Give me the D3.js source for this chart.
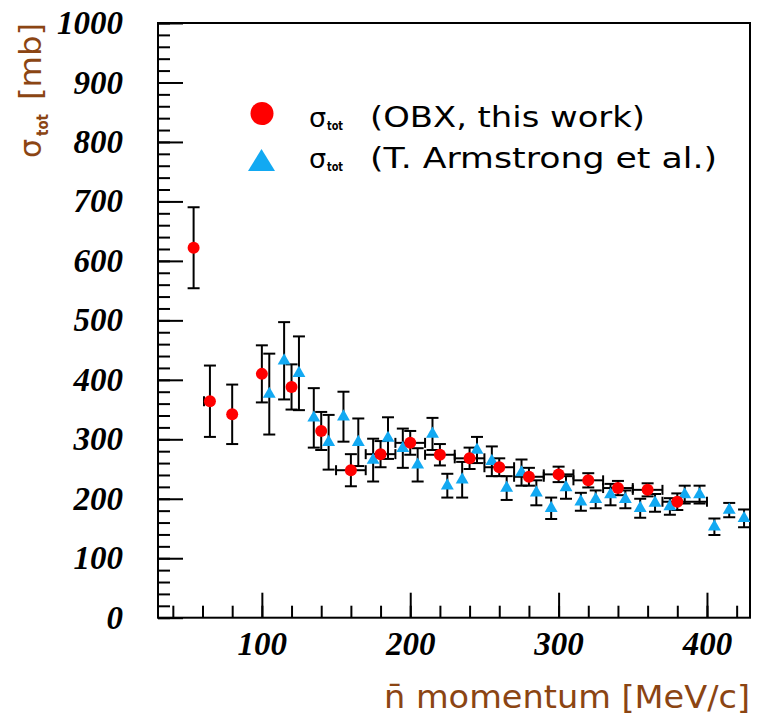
<!DOCTYPE html>
<html>
<head>
<meta charset="utf-8">
<script src="https://cdn.jsdelivr.net/npm/d3@7"></script>
<style>
html,body{margin:0;padding:0;background:#fff;}
svg{display:block;}
</style>
</head>
<body>
<svg id="chart" width="767" height="718"></svg>
<script>
// ---- data ----
const redX    = [54, 65, 80, 100, 120, 140, 160, 180, 200, 220, 240, 260, 280, 300, 320, 340, 360, 380];
const redY    = [622, 364, 342, 410, 388, 314, 248, 275, 294, 274, 268, 253, 237, 241, 231, 218, 215, 195];
const redErr  = [68, 60, 50, 48, 38, 32, 27, 22, 20, 18, 18, 15, 15, 13, 12, 12, 11, 14];
const redXLo  = [0, 4, 0, 0, 0, 0, 10, 10, 10, 10, 10, 10, 10, 10, 10, 10, 10, 10];
const redXHi  = [0, 0, 0, 0, 0, 0, 10, 10, 10, 10, 10, 10, 10, 10, 10, 10, 10, 20];

const blueX   = [105, 115, 125, 135, 145, 155, 165, 175, 185, 195, 205, 215, 225, 235, 245, 255, 265,
                 275, 285, 295, 305, 315, 325, 335, 345, 355, 365, 375, 385, 395, 405, 415, 425];
const blueY   = [376, 432, 411, 336, 295, 338, 295, 265, 302, 285, 257, 309, 222, 232, 282, 263, 218,
                 244, 210, 184, 219, 195, 199, 207, 199, 184, 193, 187, 207, 207, 153, 181, 167];
const blueErr = [68, 65, 62, 50, 46, 42, 40, 36, 35, 33, 28, 27, 20, 30, 22, 25, 20,
                 22, 21, 18, 19, 15, 15, 18, 15, 16, 15, 14, 15, 15, 14, 12, 15];

const yMajorTicks = [0, 100, 200, 300, 400, 500, 600, 700, 800, 900, 1000];
const xMajorTicks = [100, 200, 300, 400];
const legendLabels = ["(OBX, this work)", "(T. Armstrong et al.)"];
const xTitle = "n\u0304 momentum [MeV/c]";
const yTitleUnit = "[mb]";

// ---- layout ----
const svg = d3.select("#chart");
const L = 158, R = 750, T = 23, B = 617.7;
const x = d3.scaleLinear().domain([30, 429]).range([L, R]);
const y = d3.scaleLinear().domain([0, 1000]).range([B, T]);
const brown = "#8b4513";
const red = "#ff0000", blue = "#12a9f2";

svg.append("defs").append("clipPath").attr("id", "clip")
  .append("rect").attr("x", L).attr("y", T).attr("width", R - L).attr("height", B - T);

// axes: minor ticks
const yMinor = d3.range(0, 1001, 20);
const xMinor = d3.range(40, 429, 20);

const gyMinor = svg.append("g").attr("transform", `translate(${L},0)`)
  .call(d3.axisLeft(y).tickValues(yMinor).tickSize(-12).tickFormat(""));
const gyMajor = svg.append("g").attr("transform", `translate(${L},0)`)
  .call(d3.axisLeft(y).tickValues(yMajorTicks).tickSize(-25).tickPadding(35).tickFormat(d3.format("d")));
const gxMinor = svg.append("g").attr("transform", `translate(0,${B})`)
  .call(d3.axisBottom(x).tickValues(xMinor).tickSize(-12).tickFormat(""));
const gxMajor = svg.append("g").attr("transform", `translate(0,${B})`)
  .call(d3.axisBottom(x).tickValues(xMajorTicks).tickSize(-25).tickPadding(14).tickFormat(d3.format("d")));

[gyMinor, gyMajor, gxMinor, gxMajor].forEach(g => {
  g.select(".domain").remove();
  g.selectAll(".tick line").attr("stroke", "#000").attr("stroke-width", 2);
  g.selectAll(".tick text")
    .attr("font-family", "'Liberation Serif', 'DejaVu Serif', serif")
    .attr("font-weight", "bold").attr("font-style", "italic")
    .attr("font-size", 33).attr("fill", "#000");
});

// frame
svg.append("rect").attr("x", L).attr("y", T).attr("width", R - L).attr("height", B - T)
  .attr("fill", "none").attr("stroke", "#000").attr("stroke-width", 2);

// data
const plot = svg.append("g").attr("clip-path", "url(#clip)");
const red_d = redX.map((v, i) => ({x: v, y: redY[i], e: redErr[i], lo: redXLo[i], hi: redXHi[i]}));
const blue_d = blueX.map((v, i) => ({x: v, y: blueY[i], e: blueErr[i]}));
const cap = 6;

function errBars(g, data, withX) {
  const eb = g.append("g").attr("stroke", "#000").attr("stroke-width", 2).attr("fill", "none");
  const grp = eb.selectAll("g").data(data).join("g");
  grp.append("line")
    .attr("x1", d => x(d.x)).attr("x2", d => x(d.x))
    .attr("y1", d => y(d.y - d.e)).attr("y2", d => y(d.y + d.e));
  grp.append("line")
    .attr("x1", d => x(d.x) - cap).attr("x2", d => x(d.x) + cap)
    .attr("y1", d => y(d.y + d.e)).attr("y2", d => y(d.y + d.e));
  grp.append("line")
    .attr("x1", d => x(d.x) - cap).attr("x2", d => x(d.x) + cap)
    .attr("y1", d => y(d.y - d.e)).attr("y2", d => y(d.y - d.e));
  if (withX) {
    const gx = grp.filter(d => d.lo > 0 || d.hi > 0);
    gx.append("line")
      .attr("x1", d => x(d.x - d.lo)).attr("x2", d => x(d.x + d.hi))
      .attr("y1", d => y(d.y)).attr("y2", d => y(d.y));
    gx.filter(d => d.hi > 0).append("line")
      .attr("x1", d => x(d.x + d.hi)).attr("x2", d => x(d.x + d.hi))
      .attr("y1", d => y(d.y) - 5).attr("y2", d => y(d.y) + 5);
    gx.filter(d => d.lo > 0).append("line")
      .attr("x1", d => x(d.x - d.lo)).attr("x2", d => x(d.x - d.lo))
      .attr("y1", d => y(d.y) - 5).attr("y2", d => y(d.y) + 5);
  }
}
errBars(plot, blue_d, false);
errBars(plot, red_d, true);

const tri = d3.symbol().type(d3.symbolTriangle).size(72);
plot.append("g").selectAll("path").data(blue_d).join("path")
  .attr("d", tri)
  .attr("transform", d => `translate(${x(d.x)},${y(d.y)})`)
  .attr("fill", blue);
plot.append("g").selectAll("circle").data(red_d).join("circle")
  .attr("cx", d => x(d.x)).attr("cy", d => y(d.y)).attr("r", 6)
  .attr("fill", red);

// legend
const lg = svg.append("g");
lg.append("circle").attr("cx", 262).attr("cy", 113.5).attr("r", 11.5).attr("fill", red);
lg.append("path").attr("d", "M248,171 L275,171 L261.5,149 Z").attr("fill", blue);
const legY = [127, 168];
legendLabels.forEach((lab, i) => {
  const by = legY[i];
  lg.append("text").attr("x", 309).attr("y", by)
    .attr("font-family", "'DejaVu Sans', sans-serif").attr("font-size", 27).attr("fill", "#000")
    .text("\u03c3");
  lg.append("text").attr("x", 327).attr("y", by + 3)
    .attr("font-family", "'DejaVu Sans', sans-serif").attr("font-size", 12).attr("font-weight", "bold")
    .attr("textLength", 16).attr("lengthAdjust", "spacingAndGlyphs").attr("fill", "#000")
    .text("tot");
  lg.append("text").attr("x", 370).attr("y", by)
    .attr("font-family", "'DejaVu Sans', sans-serif").attr("font-size", 28).attr("fill", "#000")
    .attr("textLength", i === 0 ? 275 : 347).attr("lengthAdjust", "spacingAndGlyphs")
    .text(lab);
});

// x title
svg.append("text").attr("x", 750).attr("y", 708).attr("text-anchor", "end")
  .attr("font-family", "'DejaVu Sans', sans-serif").attr("font-size", 32).attr("fill", brown)
  .attr("textLength", 366).attr("lengthAdjust", "spacingAndGlyphs")
  .text(xTitle);

// y title (rotated)
const yt = svg.append("g").attr("transform", "translate(41,158) rotate(-90)");
yt.append("text").attr("x", 0).attr("y", 0)
  .attr("font-family", "'DejaVu Sans', sans-serif").attr("font-size", 30).attr("fill", brown)
  .text("\u03c3");
yt.append("text").attr("x", 22).attr("y", 7)
  .attr("font-family", "'DejaVu Sans', sans-serif").attr("font-size", 15).attr("font-weight", "bold")
  .attr("textLength", 22).attr("lengthAdjust", "spacingAndGlyphs").attr("fill", brown)
  .text("tot");
yt.append("text").attr("x", 58).attr("y", 0)
  .attr("font-family", "'DejaVu Sans', sans-serif").attr("font-size", 30).attr("fill", brown)
  .attr("textLength", 77).attr("lengthAdjust", "spacingAndGlyphs")
  .text(yTitleUnit);
</script>
</body>
</html>
